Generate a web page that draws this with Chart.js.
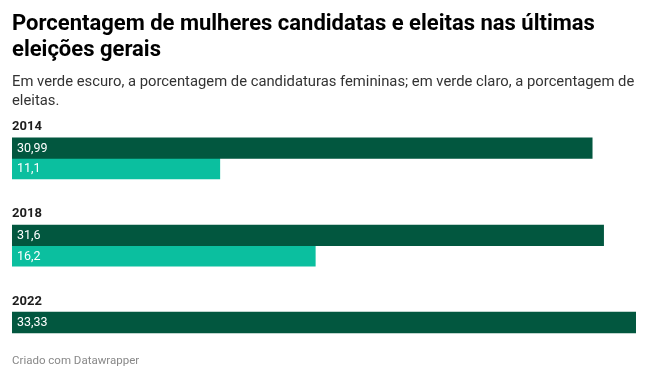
<!DOCTYPE html>
<html>
<head>
<meta charset="utf-8">
<script src="https://cdn.jsdelivr.net/npm/chart.js@4/dist/chart.umd.min.js"></script>
<style>
  html, body { margin: 0; padding: 0; background: #fff; }
  body { width: 648px; height: 379px; position: relative; overflow: hidden; font-family: Roboto, "Noto Sans", sans-serif; }
  #title { position: absolute; left: 12px; top: 10px; width: 630px; font-size: 22px; font-weight: 700; line-height: 26px; color: #000; }
  #subtitle { position: absolute; left: 12px; top: 72px; width: 636px; font-size: 14.8px; line-height: 19px; color: #333; }
  #footer { position: absolute; left: 12px; top: 353px; font-size: 11.5px; color: #888; }
  #wrap { position: absolute; left: 0; top: 0; width: 648px; height: 379px; }
</style>
</head>
<body>
<div id="wrap"><canvas id="c" width="648" height="379"></canvas></div>
<div id="title">Porcentagem de mulheres candidatas e eleitas nas últimas eleições gerais</div>
<div id="subtitle">Em verde escuro, a porcentagem de candidaturas femininas; em verde claro, a porcentagem de eleitas.</div>
<div id="footer">Criado com Datawrapper</div>
<script>
const years = ['2014', '2018', '2022'];
const candidatas = [30.99, 31.6, 33.33];
const eleitas = [11.1, 16.2, null];

const darkGreen = '#02573f';
const lightGreen = '#0bbf9f';

const fmt = v => String(v).replace('.', ',');

const labelsPlugin = {
  id: 'labelsPlugin',
  afterDatasetsDraw(chart) {
    const ctx = chart.ctx;
    const yScale = chart.scales.y;
    ctx.save();
    // year labels above each group
    ctx.font = 'bold 13px Roboto, "Noto Sans", sans-serif';
    ctx.fillStyle = '#1d1d1d';
    ctx.textAlign = 'left';
    ctx.textBaseline = 'middle';
    chart.data.labels.forEach((lab, i) => {
      const yc = yScale.getPixelForTick(i);
      ctx.fillText(lab, chart.chartArea.left, yc - 31.5);
    });
    // value labels inside bars
    ctx.font = '12.5px Roboto, "Noto Sans", sans-serif';
    ctx.fillStyle = '#ffffff';
    chart.data.datasets.forEach((ds, di) => {
      const meta = chart.getDatasetMeta(di);
      meta.data.forEach((el, i) => {
        const v = ds.data[i];
        if (v === null || v === undefined) return;
        ctx.fillText(fmt(v), el.base + 5, el.y + 0.5);
      });
    });
    ctx.restore();
  }
};

new Chart(document.getElementById('c'), {
  type: 'bar',
  data: {
    labels: years,
    datasets: [
      { label: 'Candidatas', data: candidatas, backgroundColor: darkGreen, borderWidth: 0, barThickness: 20.6 },
      { label: 'Eleitas', data: eleitas, backgroundColor: lightGreen, borderWidth: 0, barThickness: 20.6 }
    ]
  },
  options: {
    indexAxis: 'y',
    responsive: false,
    animation: false,
    devicePixelRatio: 1,
    layout: { padding: { left: 12, right: 12, top: 114.8, bottom: 2.6 } },
    plugins: { legend: { display: false }, tooltip: { enabled: false } },
    scales: {
      x: { display: false, min: 0, max: Math.max(...candidatas) },
      y: { display: false, offset: true }
    }
  },
  plugins: [labelsPlugin]
});
</script>
</body>
</html>
